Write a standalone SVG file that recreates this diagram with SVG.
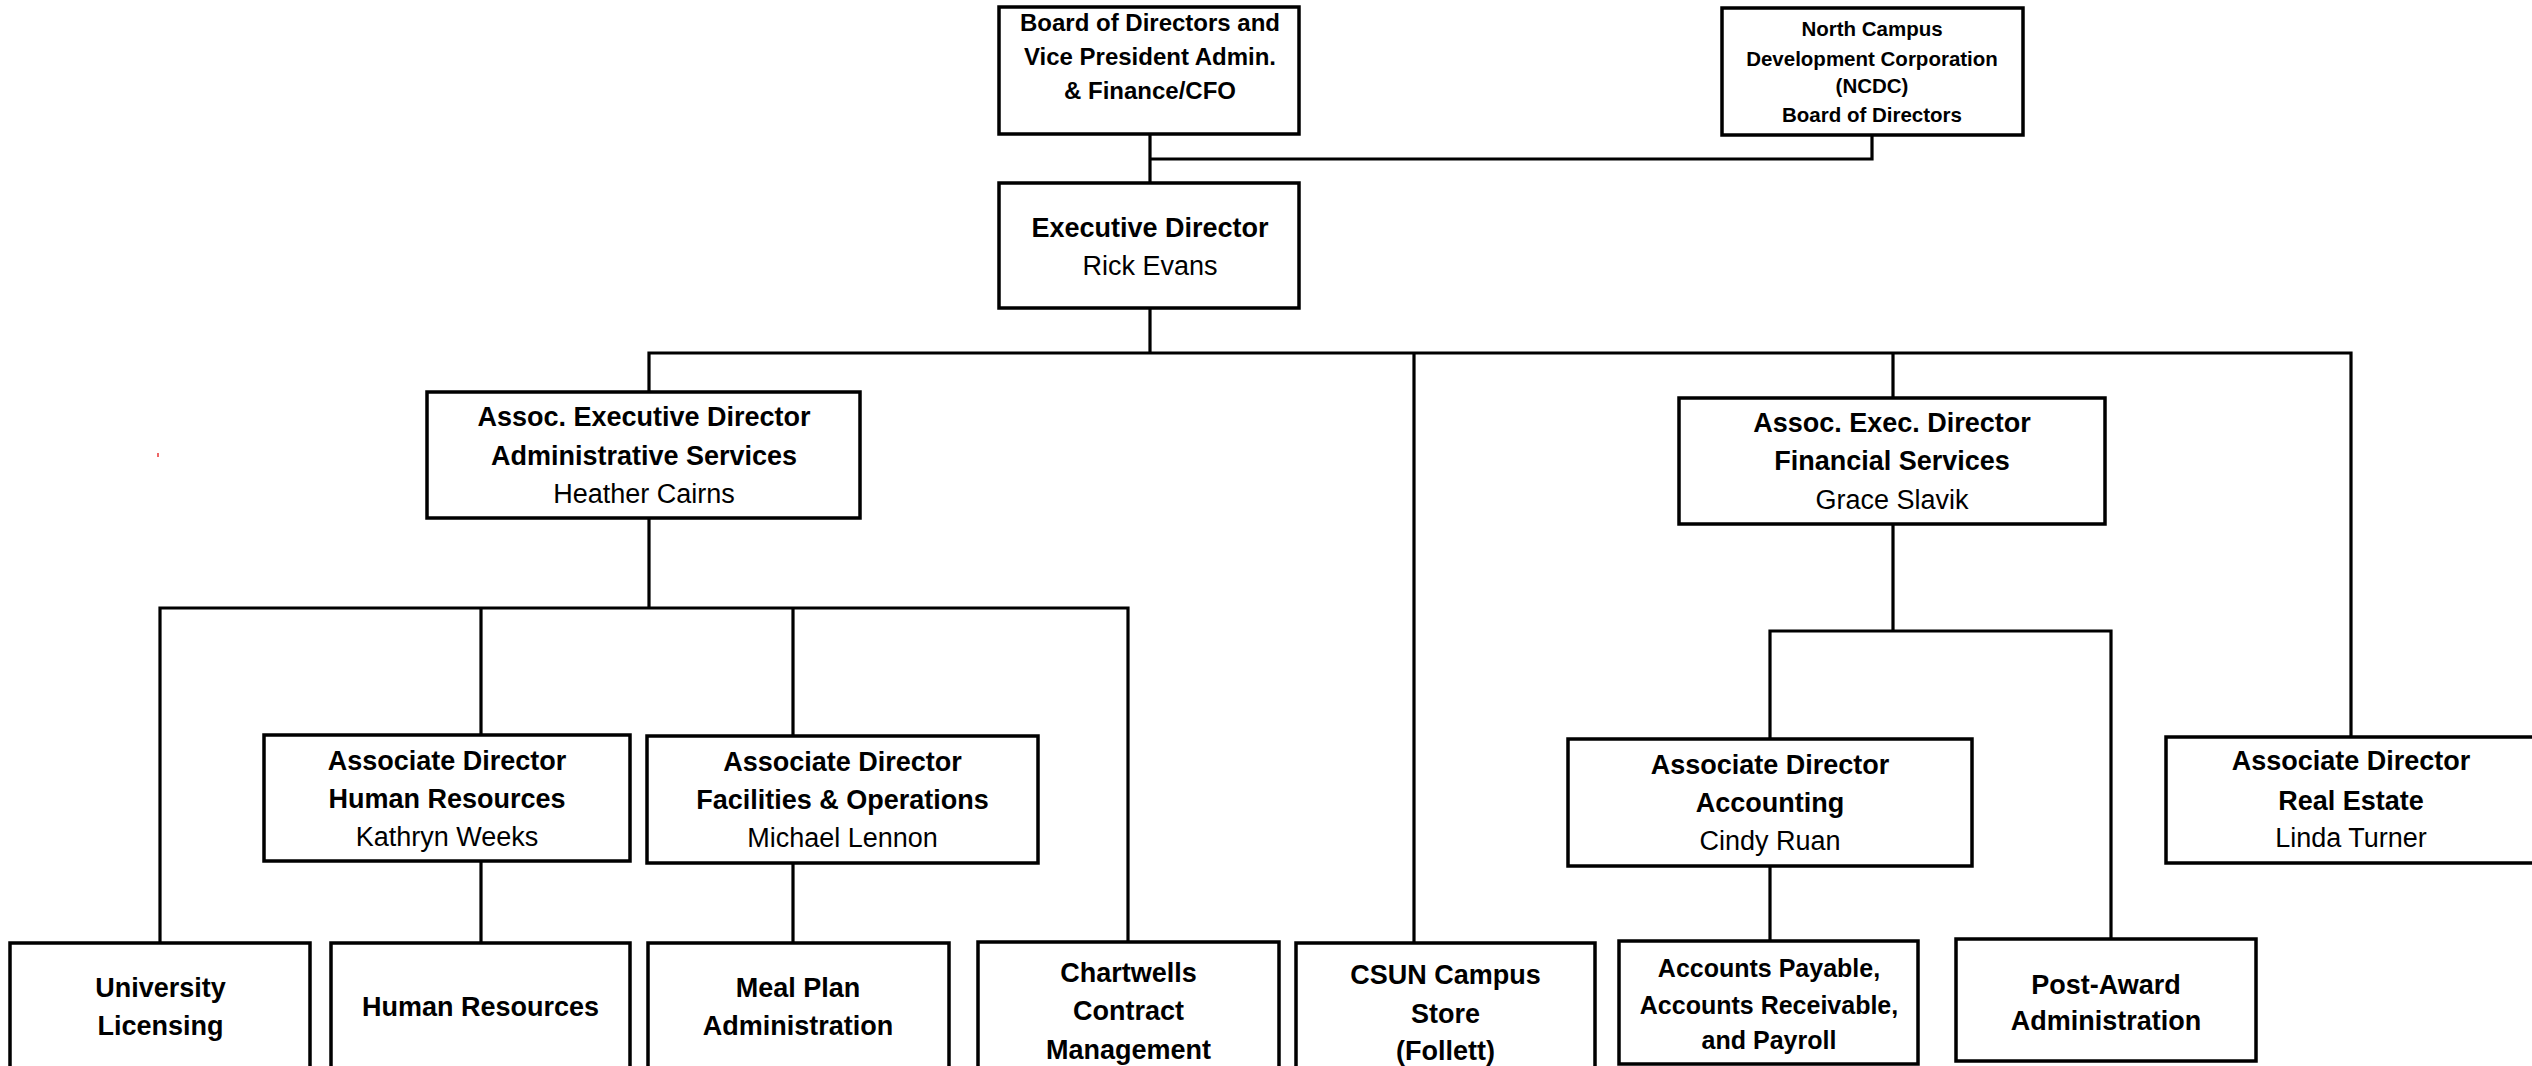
<svg xmlns="http://www.w3.org/2000/svg" width="2532" height="1066" viewBox="0 0 2532 1066">
<style>
.box{fill:#fff;stroke:#000;stroke-width:3.5}
.ln{fill:none;stroke:#000;stroke-width:3.2;stroke-linecap:square}
text{font-family:"Liberation Sans",Arial,sans-serif;text-anchor:middle;fill:#000}
.b{font-weight:bold;font-size:27px}
.r{font-size:27px}
.bs{font-weight:bold;font-size:24px}
.bx{font-weight:bold;font-size:20.5px}
.ba{font-weight:bold;font-size:25px}
</style>
<rect x="0" y="0" width="2532" height="1066" fill="#fff"/>
<g id="connectors">
<path class="ln" d="M1150 134V183M1150 159H1872V135"/>
<path class="ln" d="M1150 308V353M649 353H2351M649 353V392M1414 353V943M1893 353V398M2351 353V737"/>
<path class="ln" d="M649 518V608M160 608H1128M160 608V943M481 608V735M793 608V736M1128 608V942"/>
<path class="ln" d="M481 861V943M793 863V943"/>
<path class="ln" d="M1893 524V631M1770 631H2111M1770 631V739M2111 631V939M1770 866V941"/>
</g>
<g id="board"><rect class="box" x="999" y="7" width="300" height="127"/>
<text class="bs" x="1150" y="31">Board of Directors and</text>
<text class="bs" x="1150" y="65">Vice President Admin.</text>
<text class="bs" x="1150" y="99">&amp; Finance/CFO</text></g>
<g id="ncdc"><rect class="box" x="1722" y="8" width="301" height="127"/>
<text class="bx" x="1872" y="36">North Campus</text>
<text class="bx" x="1872" y="66">Development Corporation</text>
<text class="bx" x="1872" y="93">(NCDC)</text>
<text class="bx" x="1872" y="122">Board of Directors</text></g>
<g id="exec"><rect class="box" x="999" y="183" width="300" height="125"/>
<text class="b" x="1150" y="237">Executive Director</text>
<text class="r" x="1150" y="275">Rick Evans</text></g>
<g id="aed-admin"><rect class="box" x="427" y="392" width="433" height="126"/>
<text class="b" x="644" y="425.5">Assoc. Executive Director</text>
<text class="b" x="644" y="464.5">Administrative Services</text>
<text class="r" x="644" y="502.5">Heather Cairns</text></g>
<g id="aed-fin"><rect class="box" x="1679" y="398" width="426" height="126"/>
<text class="b" x="1892" y="432">Assoc. Exec. Director</text>
<text class="b" x="1892" y="470">Financial Services</text>
<text class="r" x="1892" y="509">Grace Slavik</text></g>
<g id="ad-hr"><rect class="box" x="264" y="735" width="366" height="126"/>
<text class="b" x="447" y="769.5">Associate Director</text>
<text class="b" x="447" y="807.5">Human Resources</text>
<text class="r" x="447" y="845.5">Kathryn Weeks</text></g>
<g id="ad-fo"><rect class="box" x="647" y="736" width="391" height="127"/>
<text class="b" x="842.5" y="770.5">Associate Director</text>
<text class="b" x="842.5" y="808.5">Facilities &amp; Operations</text>
<text class="r" x="842.5" y="846.5">Michael Lennon</text></g>
<g id="ad-acct"><rect class="box" x="1568" y="739" width="404" height="127"/>
<text class="b" x="1770" y="773.5">Associate Director</text>
<text class="b" x="1770" y="811.5">Accounting</text>
<text class="r" x="1770" y="849.5">Cindy Ruan</text></g>
<g id="ad-re"><rect class="box" x="2166" y="737" width="380" height="126"/>
<text class="b" x="2351" y="769.5">Associate Director</text>
<text class="b" x="2351" y="809.5">Real Estate</text>
<text class="r" x="2351" y="846.5">Linda Turner</text></g>
<g id="univ-lic"><rect class="box" x="10" y="943" width="300" height="160"/>
<text class="b" x="160.5" y="996.5">University</text>
<text class="b" x="160.5" y="1034.5">Licensing</text></g>
<g id="hr"><rect class="box" x="331" y="943" width="299" height="160"/>
<text class="b" x="480.5" y="1015.5">Human Resources</text></g>
<g id="meal"><rect class="box" x="648" y="943" width="301" height="160"/>
<text class="b" x="798" y="996.5">Meal Plan</text>
<text class="b" x="798" y="1034.5">Administration</text></g>
<g id="chartwells"><rect class="box" x="978" y="942" width="301" height="160"/>
<text class="b" x="1128.5" y="981.5">Chartwells</text>
<text class="b" x="1128.5" y="1019.5">Contract</text>
<text class="b" x="1128.5" y="1058.5">Management</text></g>
<g id="csun"><rect class="box" x="1296" y="943" width="299" height="160"/>
<text class="b" x="1445.5" y="983.5">CSUN Campus</text>
<text class="b" x="1445.5" y="1022.5">Store</text>
<text class="b" x="1445.5" y="1059.5">(Follett)</text></g>
<g id="ap"><rect class="box" x="1619" y="941" width="299" height="123"/>
<text class="ba" x="1769" y="977">Accounts Payable,</text>
<text class="ba" x="1769" y="1014">Accounts Receivable,</text>
<text class="ba" x="1769" y="1049">and Payroll</text></g>
<g id="post-award"><rect class="box" x="1956" y="939" width="300" height="122"/>
<text class="b" x="2106" y="993.5">Post-Award</text>
<text class="b" x="2106" y="1029.5">Administration</text></g>
<rect x="157" y="453" width="2" height="4" fill="#e66"/>
</svg>
